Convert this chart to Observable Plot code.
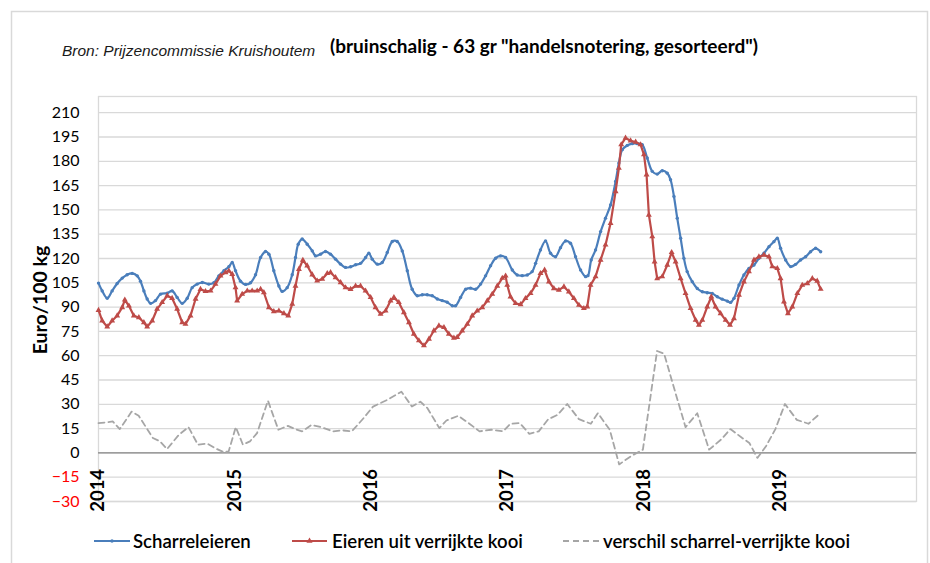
<!DOCTYPE html>
<html>
<head>
<meta charset="utf-8">
<script src="https://cdn.jsdelivr.net/npm/d3@7"></script>
<script src="https://cdn.jsdelivr.net/npm/@observablehq/plot@0.6"></script>
<style>
  html, body { margin: 0; padding: 0; background: #fff; }
  #wrap { position: relative; width: 930px; height: 563px; overflow: hidden; }
  #wrap > svg { position: absolute; left: 0; top: 0; }
</style>
</head>
<body>
<div id="wrap"></div>
<script>
// ---- data ----
const titleText = "(bruinschalig - 63 gr \"handelsnotering, gesorteerd\")";
const sourceText = "Bron: Prijzencommissie Kruishoutem";
const yLabel = "Euro/100 kg";
const seriesNames = ["Scharreleieren", "Eieren uit verrijkte kooi", "verschil scharrel-verrijkte kooi"];
const years = [2014, 2015, 2016, 2017, 2018, 2019];
const yTicksPos = [0, 15, 30, 45, 60, 75, 90, 105, 120, 135, 150, 165, 180, 195, 210];
const yTicksNeg = [-15, -30];

// Scharreleieren (time in fractional years, value in euro/100 kg)
const scharT = [2014.000,2014.027,2014.064,2014.100,2014.137,2014.174,2014.210,2014.247,2014.284,2014.308,2014.333,2014.357,2014.382,2014.418,2014.455,2014.504,2014.540,2014.577,2014.614,2014.651,2014.687,2014.724,2014.761,2014.809,2014.846,2014.883,2014.920,2014.956,2014.981,2015.005,2015.042,2015.079,2015.115,2015.152,2015.189,2015.225,2015.250,2015.286,2015.323,2015.347,2015.384,2015.421,2015.445,2015.465,2015.494,2015.531,2015.568,2015.592,2015.629,2015.665,2015.702,2015.739,2015.776,2015.812,2015.849,2015.886,2015.922,2015.959,2015.983,2016.008,2016.045,2016.081,2016.118,2016.155,2016.191,2016.228,2016.265,2016.301,2016.338,2016.375,2016.411,2016.448,2016.485,2016.521,2016.558,2016.595,2016.619,2016.656,2016.693,2016.729,2016.766,2016.803,2016.839,2016.876,2016.913,2016.949,2016.986,2017.035,2017.071,2017.108,2017.145,2017.181,2017.206,2017.242,2017.279,2017.316,2017.352,2017.389,2017.426,2017.462,2017.499,2017.536,2017.573,2017.590,2017.614,2017.646,2017.683,2017.719,2017.756,2017.793,2017.817,2017.842,2017.878,2017.915,2017.952,2017.988,2018.025,2018.062,2018.098,2018.135,2018.172,2018.196,2018.221,2018.245,2018.270,2018.294,2018.318,2018.355,2018.392,2018.429,2018.465,2018.502,2018.539,2018.575,2018.612,2018.637,2018.661,2018.698,2018.734,2018.771,2018.808,2018.844,2018.881,2018.918,2018.954,2018.979,2019.003,2019.040,2019.077,2019.113,2019.150,2019.187,2019.223,2019.260,2019.297];
const scharV = [104.8,100,95.5,100,104.6,107.9,110,110.8,109.3,106,100,95,92.3,94,98,98.6,100,96,92.3,95.5,102,104.2,105.2,104.2,105,109.3,112.4,114.9,117.5,112.4,106,104,105,110,120.6,124.3,122.7,112.4,103,99.7,102,110,120.6,128.8,132,128.8,124.7,121.6,122.7,124.3,122.7,119.6,116.5,114.5,114.9,116.1,117,120.6,123.3,119.6,116.5,117.5,123.7,130.5,130.5,124.7,112.4,101,97,97.6,97.6,97,95,94,93,90.8,90.8,96,101,101.7,101,104.2,109.3,115.5,120.2,121.6,120.6,112.9,109.8,109.4,109.8,111.9,117,125.3,130.8,123.2,121.1,126.7,130.8,129.4,121.1,112.9,108.8,109.4,119.1,125.3,136.6,144.9,153.1,167.6,178.9,187.2,189.8,190.9,190.9,190.3,182,173.8,172.1,174.2,172.7,168.6,158.3,144.9,132.5,120.1,111.9,105.7,101.5,99.5,98.9,98.4,96.4,94.9,93.7,92.9,95.4,103.6,109.8,113.9,116,120.1,123.2,127.3,130.4,132.5,126.3,119.1,115,116.4,119.1,121.1,124.2,126.3,124.2];

// Eieren uit verrijkte kooi
const kooiT = [2014.000,2014.027,2014.064,2014.100,2014.137,2014.174,2014.193,2014.223,2014.259,2014.296,2014.333,2014.357,2014.394,2014.430,2014.467,2014.504,2014.540,2014.577,2014.614,2014.638,2014.675,2014.712,2014.748,2014.785,2014.822,2014.858,2014.895,2014.932,2014.956,2014.981,2015.005,2015.017,2015.054,2015.091,2015.127,2015.164,2015.189,2015.213,2015.250,2015.286,2015.323,2015.360,2015.392,2015.421,2015.445,2015.470,2015.499,2015.531,2015.568,2015.604,2015.641,2015.678,2015.702,2015.739,2015.776,2015.812,2015.849,2015.886,2015.922,2015.959,2015.996,2016.032,2016.069,2016.106,2016.142,2016.167,2016.203,2016.240,2016.277,2016.313,2016.350,2016.387,2016.424,2016.460,2016.497,2016.534,2016.570,2016.607,2016.631,2016.668,2016.705,2016.741,2016.778,2016.815,2016.852,2016.888,2016.925,2016.962,2016.986,2016.998,2017.022,2017.059,2017.096,2017.132,2017.169,2017.206,2017.242,2017.272,2017.304,2017.340,2017.377,2017.414,2017.450,2017.487,2017.524,2017.560,2017.585,2017.609,2017.646,2017.683,2017.719,2017.756,2017.793,2017.817,2017.834,2017.866,2017.903,2017.940,2017.976,2018.001,2018.020,2018.037,2018.062,2018.079,2018.098,2018.135,2018.172,2018.204,2018.233,2018.270,2018.306,2018.343,2018.380,2018.404,2018.429,2018.465,2018.495,2018.526,2018.563,2018.600,2018.632,2018.661,2018.698,2018.734,2018.771,2018.808,2018.844,2018.881,2018.918,2018.942,2018.979,2019.003,2019.028,2019.057,2019.089,2019.126,2019.162,2019.199,2019.236,2019.272,2019.297];
const kooiV = [88.1,81.6,77.9,81.6,84.7,89.8,94.5,90.8,84.7,83.6,80.5,77.9,81.6,88.8,92.9,97,95.5,88.8,80.5,79.5,84.7,95,101,99.7,100,104.2,109.3,111.4,112.4,110.3,102,93.9,98,100,100,100,101,99,89.8,87.3,87.7,86.1,84.7,91.9,103,113.4,119,115.5,110,106.2,107.3,110.8,111.4,108.3,105.2,102,101,103,103,100,96,89.8,85.7,87.7,93.9,96,92.9,86.7,80.5,73.4,69.3,66.2,70.3,75.4,78.5,77.5,73.4,70.9,71.4,75.4,79.5,84.7,87.7,89.8,93.9,98,103,107.9,109.3,103.6,96.4,92.3,91.6,95.4,98.5,103.6,110.8,112.9,105.7,101.5,100.5,102.6,99.5,95.4,91.2,89.2,90.2,103.6,108.8,119.1,128.4,141.8,161.4,175.8,190.3,194.4,192.7,191.9,190.3,184.1,171.7,146.9,133.5,118,107.7,108.8,116,123.8,118,107.7,98.5,89.2,82,78.9,82,90.2,96.4,90.2,86.1,82,78.9,83,97.4,105.7,111.9,119.1,121.1,122.2,121.1,115,113.9,107.7,93.3,86.1,90.2,98.5,103.6,104.6,107.7,106.1,101.1];

// verschil scharrel - verrijkte kooi (monthly)
const verschilT = [2014.000,2014.052,2014.104,2014.156,2014.243,2014.295,2014.399,2014.451,2014.503,2014.590,2014.660,2014.729,2014.799,2014.851,2014.920,2014.955,2015.007,2015.059,2015.111,2015.163,2015.243,2015.319,2015.389,2015.441,2015.493,2015.563,2015.632,2015.719,2015.788,2015.858,2015.944,2016.014,2016.118,2016.222,2016.299,2016.361,2016.413,2016.500,2016.552,2016.639,2016.708,2016.795,2016.882,2016.969,2017.021,2017.090,2017.160,2017.229,2017.299,2017.368,2017.438,2017.524,2017.611,2017.663,2017.750,2017.819,2017.906,2017.993,2018.097,2018.149,2018.219,2018.306,2018.392,2018.479,2018.566,2018.635,2018.722,2018.774,2018.833,2018.896,2018.965,2019.035,2019.122,2019.208,2019.295];
const verschilV = [18.4,18.8,19.4,14.7,25.5,22.9,9.2,7.1,2.4,11.2,15.9,5.1,5.7,3.1,0.4,1,15.9,5.1,7.1,12.2,32.2,14.3,16.7,14.7,13.3,17.3,15.9,13.3,13.9,13.3,21.4,28.6,32.7,37.8,28.6,31.6,27.6,15.3,20,22.9,18.8,13.3,14.3,13.3,18,18.4,11.8,13.3,20.8,23.5,30.2,20.8,18,24.5,14.3,-7.1,-2,2,62.9,61.2,40.8,15.9,24.5,2,8.2,14.7,9.2,6.1,-3.1,4.1,14.7,30.2,20.4,18,24.5];

// ---- styling ----
const blue = "#4a7ebb", red = "#be4b48", grey = "#a6a6a6";
const font = "Lato, 'Open Sans', sans-serif";

const wrap = document.getElementById("wrap");

const chart = Plot.plot({
  width: 930,
  height: 563,
  marginLeft: 98,
  marginRight: 14,
  marginTop: 96,
  marginBottom: 62,
  x: {domain: [2014, 2020], axis: null},
  y: {domain: [-30, 220], axis: null},
  style: {background: "transparent", fontFamily: font, color: "#000", overflow: "visible"},
  marks: [
    Plot.ruleY(yTicksPos.concat(yTicksNeg), {stroke: "#d9d9d9", strokeWidth: 1.3}),
    Plot.frame({stroke: "#d9d9d9", strokeWidth: 1.3}),
    Plot.ruleY([0], {stroke: "#868686", strokeWidth: 1.2}),
    Plot.axisY({ticks: yTicksPos, tickSize: 0, tickPadding: 19, fontSize: 16, label: null, color: "#000"}),
    Plot.axisY({ticks: yTicksNeg, tickSize: 0, tickPadding: 19, fontSize: 16, label: null, color: "#ff0000"}),
    Plot.text(years, {x: d => d, y: () => 0, text: d => String(d), rotate: -90, textAnchor: "end", lineAnchor: "middle", dy: 16, fontSize: 18.5, fontWeight: "bold", fill: "#000"}),
    Plot.text([yLabel], {frameAnchor: "left", text: d => d, rotate: -90, textAnchor: "middle", lineAnchor: "middle", dx: -58, dy: 1, fontSize: 19.5, fontWeight: "bold", fill: "#000"}),
    Plot.line(verschilT, {x: d => d, y: (d, i) => verschilV[i], stroke: grey, strokeWidth: 1.8, strokeDasharray: "6,4"}),
    Plot.line(scharT, {x: d => d, y: (d, i) => scharV[i], stroke: blue, strokeWidth: 2.2, curve: "catmull-rom"}),
    Plot.dot(scharT, {x: d => d, y: (d, i) => scharV[i], r: 1.7, fill: blue, stroke: null}),
    Plot.line(kooiT, {x: d => d, y: (d, i) => kooiV[i], stroke: red, strokeWidth: 2.2}),
    Plot.dot(kooiT, {x: d => d, y: (d, i) => kooiV[i], r: 2.2, symbol: "triangle", fill: red, stroke: null})
  ]
});
wrap.appendChild(chart);

// ---- overlay: border, source, title, legend ----
const ov = d3.create("svg")
  .attr("width", 930).attr("height", 563)
  .style("pointer-events", "none");

ov.append("rect").attr("x", 11.5).attr("y", 11.5).attr("width", 916).attr("height", 570)
  .attr("fill", "none").attr("stroke", "#d9d9d9").attr("stroke-width", 1.5);

ov.append("text").attr("x", 62).attr("y", 55.5)
  .attr("font-family", "'Liberation Sans', Arial, sans-serif").attr("font-style", "italic")
  .attr("font-size", 15.5).attr("fill", "#1a1a1a").text(sourceText);

ov.append("text").attr("x", 330).attr("y", 52.5)
  .attr("font-family", font).attr("font-weight", "bold")
  .attr("font-size", 19).attr("fill", "#000").text(titleText);

const legendY = 541;
const items = [
  {name: seriesNames[0], color: blue, x1: 94, x2: 130, tx: 133, dash: null, marker: "dot"},
  {name: seriesNames[1], color: red, x1: 292, x2: 327, tx: 332, dash: null, marker: "tri"},
  {name: seriesNames[2], color: grey, x1: 563, x2: 601, tx: 603, dash: "6,4", marker: null}
];
for (const it of items) {
  ov.append("line").attr("x1", it.x1).attr("x2", it.x2).attr("y1", legendY).attr("y2", legendY)
    .attr("stroke", it.color).attr("stroke-width", it.dash ? 1.8 : 2.2)
    .attr("stroke-dasharray", it.dash);
  const mx = (it.x1 + it.x2) / 2;
  if (it.marker === "dot") ov.append("circle").attr("cx", mx).attr("cy", legendY).attr("r", 1.7).attr("fill", it.color);
  if (it.marker === "tri") ov.append("path").attr("d", d3.symbol(d3.symbolTriangle, 16)()).attr("transform", `translate(${mx},${legendY})`).attr("fill", it.color);
  ov.append("text").attr("x", it.tx).attr("y", legendY + 6.5)
    .attr("font-family", font).attr("font-weight", 600).attr("font-size", 18.6)
    .attr("fill", "#000").text(it.name);
}
wrap.appendChild(ov.node());
</script>
</body>
</html>
